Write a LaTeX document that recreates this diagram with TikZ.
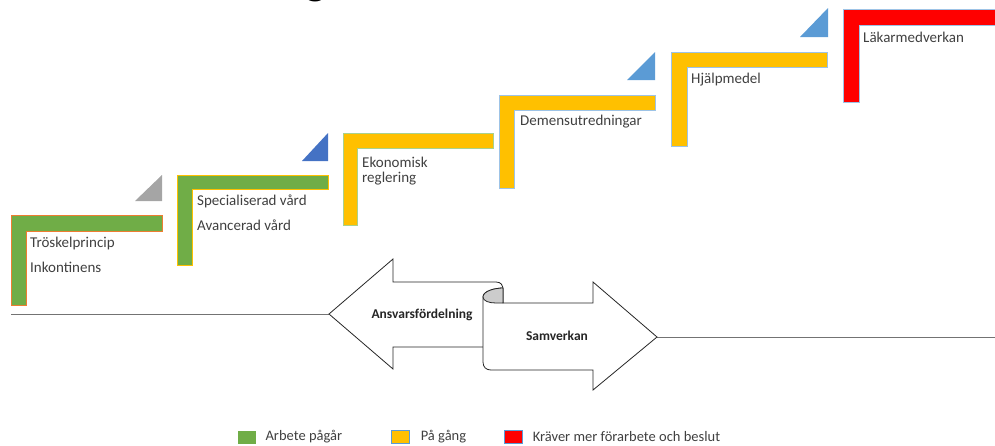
\documentclass[tikz,border=0pt]{standalone}
\usepackage{fontspec}
\setmainfont{Carlito}
\usetikzlibrary{positioning}
\definecolor{mgreen}{HTML}{70AD47}
\definecolor{morange}{HTML}{ED7D31}
\definecolor{myellow}{HTML}{FFC000}
\definecolor{mlgreen}{HTML}{A9D18E}
\definecolor{mlblue}{HTML}{9DC3E6}
\definecolor{mblue}{HTML}{4472C4}
\definecolor{mskyblue}{HTML}{5B9BD5}
\definecolor{mgrey}{HTML}{A5A5A5}
\definecolor{mred}{HTML}{FF0000}
\definecolor{mtext}{HTML}{404040}

\tikzset{
  steptext/.style={anchor=west, inner sep=0pt, text=mtext, font=\fontsize{15}{17}\selectfont},
  legendtext/.style={anchor=west, inner sep=0pt, text=mtext, font=\fontsize{14.5}{17}\selectfont},
  arrowtext/.style={inner sep=0pt, text=black!85, font=\bfseries\fontsize{13.5}{15}\selectfont},
  arrowbody/.style={draw=black!85, fill=white, line width=0.8pt, line join=miter},
  legendbox/.style={minimum width=18pt, minimum height=13pt, inner sep=0pt, anchor=west},
  baseline/.style={draw=black!55, line width=0.7pt}
}

\begin{document}
\begin{tikzpicture}[x=1pt, y=-1pt]
    \path [use as bounding box, clip] (0, 0) rectangle (995, 445);

    \node [anchor=base west, inner sep=0pt, font=\bfseries\fontsize{44}{44}\selectfont] (titlefrag) at (305, -6) {g};

    % steps
    \draw [fill=mgreen, draw=morange, line width=0.6pt] (11, 215) -- (162, 215) -- (162, 231) -- (26, 231) -- (26, 305) -- (11, 305) -- cycle;
    \draw [fill=mgreen, draw=myellow, line width=0.6pt] (177, 175) -- (328, 175) -- (328, 189) -- (192, 189) -- (192, 265) -- (177, 265) -- cycle;
    \draw [fill=myellow, draw=mlgreen, line width=0.6pt] (343, 133) -- (493, 133) -- (493, 148) -- (357, 148) -- (357, 225) -- (343, 225) -- cycle;
    \draw [fill=myellow, draw=mlblue, line width=0.6pt] (499, 95) -- (655, 95) -- (655, 110) -- (514, 110) -- (514, 188) -- (499, 188) -- cycle;
    \draw [fill=myellow, draw=mlblue, line width=0.6pt] (671, 52) -- (827, 52) -- (827, 67) -- (687, 67) -- (687, 146) -- (671, 146) -- cycle;
    \draw [fill=mred, draw=mlblue, line width=0.6pt] (843, 9) -- (1000, 9) -- (1000, 25) -- (859, 25) -- (859, 102) -- (843, 102) -- cycle;

    \fill [mgrey] (135, 201) -- (162, 201) -- (162, 175) -- cycle;
    \fill [mblue] (302, 161) -- (328, 161) -- (328, 133) -- cycle;
    \fill [mskyblue] (627, 80) -- (655, 80) -- (655, 52) -- cycle;
    \fill [mskyblue] (800, 37) -- (828, 37) -- (828, 8) -- cycle;

    \node [steptext] (troskel) at (30, 243) {Tröskelprincip};
    \node [steptext] (inkont) at (30, 267) {Inkontinens};
    \node [steptext] (special) at (197, 201) {Specialiserad vård};
    \node [steptext] (avanc) at (197, 225) {Avancerad vård};
    \node [steptext] (ekon) at (362, 162) {Ekonomisk};
    \node [steptext] (regl) at (362, 179) {reglering};
    \node [steptext] (demens) at (520, 122) {Demensutredningar};
    \node [steptext] (hjalp) at (691, 80) {Hjälpmedel};
    \node [steptext] (lakar) at (863, 37) {Läkarmedverkan};

    % the two arrows
    \coordinate (lineL) at (11, 314);
    \coordinate (ansTip) at (329, 314);
    \coordinate (samTip) at (657, 337);
    \coordinate (lineR) at (995, 337);
    \draw [baseline] (lineL) -- (ansTip);
    \draw [baseline] (samTip) -- (lineR);

    \draw [arrowbody] (ansTip) -- (393, 259) -- (393, 282) -- (496, 282) .. controls (501, 282) and (503, 285) .. (503, 290) -- (503, 347) -- (393, 347) -- (393, 369) -- cycle;
    \draw [arrowbody] (503, 303) -- (593, 303) -- (593, 282) -- (samTip) -- (593, 390) -- (593, 370) -- (491, 370) .. controls (486, 370) and (483, 367) .. (483, 362) -- (483, 297) .. controls (483, 291) and (495, 288) .. (503, 288) -- cycle;
    \draw [fill=black!20, draw=black!85, line width=0.8pt] (483, 297) .. controls (483, 291) and (495, 288) .. (503, 288) -- (503, 303) -- (496, 303) .. controls (489, 303) and (483, 301) .. (483, 297) -- cycle;

    \node [arrowtext] (ansvar) at (422, 315) {Ansvarsfördelning};
    \node [arrowtext] (samverk) at (557, 336) {Samverkan};

    % legend
    \node [legendbox, fill=mgreen] (legGreen) at (238, 437) {};
    \node [legendtext, right=9pt of legGreen] (legGreenText) {Arbete pågår};
    \node [legendbox, fill=myellow, draw=mskyblue, line width=0.6pt] (legYellow) at (391, 437) {};
    \node [legendtext, right=11pt of legYellow] (legYellowText) {På gång};
    \node [legendbox, fill=mred, draw=mskyblue, line width=0.6pt] (legRed) at (504, 437) {};
    \node [legendtext, right=10pt of legRed] (legRedText) {Kräver mer förarbete och beslut};
  \end{tikzpicture}
\end{document}
